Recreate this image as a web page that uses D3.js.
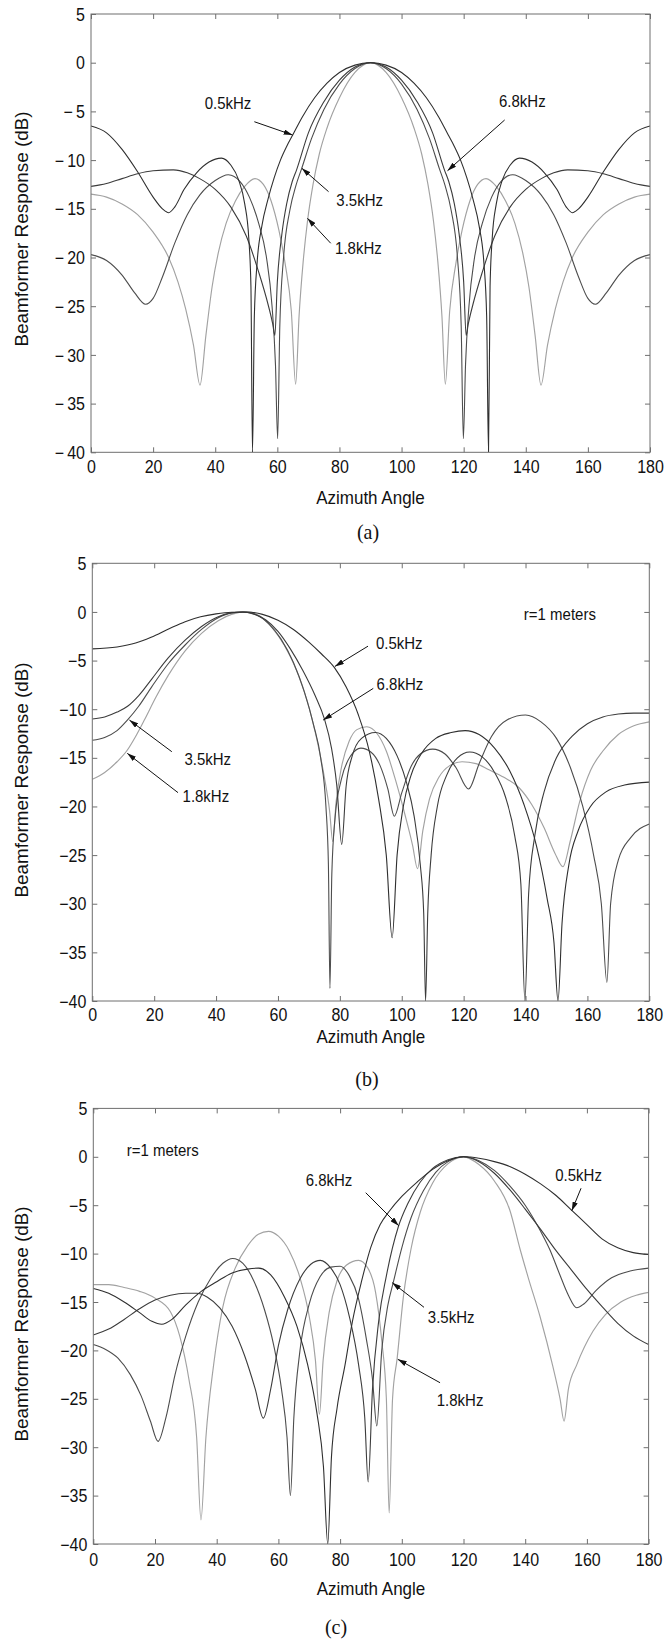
<!DOCTYPE html>
<html>
<head>
<meta charset="utf-8">
<script src="https://cdn.jsdelivr.net/npm/d3@7"></script>
<style>
  body { margin: 0; background: #fff; }
  svg { display: block; }
</style>
</head>
<body>
<svg id="chart" width="665" height="1643"></svg>
<script>
// ---------------- DATA ----------------
const xTicks = [0, 20, 40, 60, 80, 100, 120, 140, 160, 180];
const yTicks = [5, 0, -5, -10, -15, -20, -25, -30, -35, -40];
const freqs = ["0.5kHz", "6.8kHz", "3.5kHz", "1.8kHz"];
const xTitle = "Azimuth Angle";
const yTitle = "Beamformer Response (dB)";
const metersText = "r=1 meters";

// Panel (a): steered to 90 degrees  [angle, dB]
const a_05 = [[0,-6.5],[5,-7.2],[10,-8.9],[15,-11.2],[20,-13.8],[23,-15.0],[25,-15.4],[27,-14.8],[30,-13.0],[34,-11.3],[38,-10.2],[42,-9.8],[45,-10.5],[47.5,-12.0],[49.5,-14.5],[50.8,-18.0],[51.5,-23.0],[52,-40],[52.6,-26],[53.5,-20.5],[55,-16.8],[57,-14],[59,-11.8],[61,-10],[63,-8.6],[65,-7.4],[68,-5.6],[72,-3.6],[76,-2.1],[80,-1.0],[85,-0.25],[90,0],[95,-0.25],[100,-1.0],[104,-2.1],[108,-3.6],[112,-5.6],[115,-7.4],[117,-8.6],[119,-10],[121,-11.8],[123,-14],[125,-16.8],[126.5,-20.5],[127.4,-26],[128,-40],[128.5,-23],[129.2,-18],[130.5,-14.5],[132.5,-12],[135,-10.5],[138,-9.8],[142,-10.2],[146,-11.3],[150,-13],[153,-14.8],[155,-15.4],[157,-15],[160,-13.8],[165,-11.2],[170,-8.9],[175,-7.2],[180,-6.5]];
const a_68 = [[0,-12.7],[5,-12.4],[10,-11.9],[15,-11.4],[20,-11.1],[26.5,-11.0],[31,-11.3],[35,-11.9],[40,-13.0],[45,-14.8],[50,-17.8],[54,-21.5],[57,-24.8],[58.5,-26.8],[59.2,-28],[60,-22.5],[61.5,-17.5],[63,-14.5],[64.8,-12.2],[66.2,-11],[70,-7.2],[75,-4],[80,-1.8],[85,-0.45],[90,0],[95,-0.45],[100,-1.8],[105,-4],[110,-7.2],[113.8,-11],[115.2,-12.2],[117,-14.5],[118.5,-17.5],[120,-22.5],[120.8,-28],[121.5,-26.8],[123,-24.8],[126,-21.5],[130,-17.8],[135,-14.8],[140,-13],[145,-11.9],[149,-11.3],[153.5,-11],[160,-11.1],[165,-11.4],[170,-11.9],[175,-12.4],[180,-12.7]];
const a_35 = [[0,-19.7],[5,-20.3],[10,-21.8],[14,-23.6],[17.6,-24.8],[20,-24.2],[23,-22],[27,-18.5],[31,-15.6],[35,-13.6],[40,-12.1],[44.2,-11.5],[48,-12.2],[51,-13.8],[54,-16.5],[56.5,-20],[58.3,-25],[59.4,-31],[60.1,-38.6],[60.8,-27],[62,-20],[64,-15.2],[66,-12.6],[67.8,-10.9],[71,-7.8],[75,-4.8],[80,-2.2],[85,-0.6],[90,0],[95,-0.6],[100,-2.2],[105,-4.8],[109,-7.8],[112.2,-10.9],[114,-12.6],[116,-15.2],[118,-20],[119.2,-27],[119.9,-38.6],[120.6,-31],[121.7,-25],[123.5,-20],[126,-16.5],[129,-13.8],[132,-12.2],[135.8,-11.5],[140,-12.1],[145,-13.6],[149,-15.6],[153,-18.5],[157,-22],[160,-24.2],[162.4,-24.8],[166,-23.6],[170,-21.8],[175,-20.3],[180,-19.7]];
const a_18 = [[0,-13.5],[5,-13.8],[10,-14.5],[15,-15.6],[20,-17.4],[25,-20],[28,-22.5],[30.5,-25.3],[33,-29],[35.1,-33.1],[37,-28],[39,-23],[41,-19.5],[43.5,-16.5],[46.5,-14.2],[49.5,-12.7],[52.8,-11.9],[55.5,-12.5],[58,-14.2],[60.5,-17.2],[62.5,-20.6],[64.5,-25.5],[65.9,-33],[67,-26],[68.3,-20.5],[69.7,-16.3],[71.5,-12.5],[73.5,-9.4],[76,-6.7],[80,-3.6],[85,-1.0],[90,0],[95,-1.0],[100,-3.6],[104,-6.7],[106.5,-9.4],[108.5,-12.5],[110.3,-16.3],[111.7,-20.5],[113,-26],[114.1,-33],[115.5,-25.5],[117.5,-20.6],[119.5,-17.2],[122,-14.2],[124.5,-12.5],[127.2,-11.9],[130.5,-12.7],[133.5,-14.2],[136.5,-16.5],[139,-19.5],[141,-23],[143,-28],[144.9,-33.1],[147,-29],[149.5,-25.3],[152,-22.5],[155,-20],[160,-17.4],[165,-15.6],[170,-14.5],[175,-13.8],[180,-13.5]];

// Panel (b): steered to 50 degrees, r = 1 m
const b_05 = [[0,-3.8],[8,-3.6],[14,-3.2],[19,-2.6],[25,-1.7],[30,-1.0],[35,-0.5],[40,-0.2],[45,-0.03],[50,0],[55,-0.25],[60,-0.85],[65,-1.8],[70,-3.1],[74,-4.3],[78.2,-5.7],[82,-7.7],[86,-10.6],[89.5,-14.3],[92.5,-19.2],[95,-25],[96.9,-33.5],[98.5,-25],[100.5,-20],[103,-16.8],[106.5,-14.5],[111,-13],[116,-12.4],[120.5,-12.2],[125,-12.6],[130,-14],[135,-16.4],[139.5,-19.8],[143.5,-24],[147,-29.5],[149.2,-34],[150.5,-40],[151.8,-32],[154,-26],[157,-22.5],[161,-20],[166,-18.5],[172,-17.8],[180,-17.5]];
const b_68 = [[0,-11.0],[4,-10.8],[8,-10.3],[11.4,-9.7],[15,-8.6],[19.2,-6.9],[24.6,-4.7],[30,-2.9],[35.3,-1.5],[40.7,-0.5],[45,-0.1],[48.5,0],[52,-0.2],[56,-0.8],[60,-2.0],[64,-3.8],[68,-6.0],[72,-8.6],[75,-11.0],[77.3,-14],[79,-17.8],[80.6,-23.9],[82,-18],[84,-14.8],[87,-13],[91.5,-12.4],[95,-13],[98.5,-14.8],[101.5,-17.5],[104,-21],[106,-26],[107.1,-31],[107.7,-40],[108.4,-31],[109.5,-25],[111.5,-20],[114.5,-16.8],[118,-15],[122,-14.4],[126,-14.9],[130,-16.5],[133.5,-19],[136.5,-23],[138.5,-28],[139.8,-40],[141,-29],[143,-23],[146,-18.5],[150,-15],[155,-12.8],[160,-11.5],[165,-10.8],[170,-10.5],[175,-10.4],[180,-10.4]];
const b_35 = [[0,-13.2],[4,-12.9],[8,-12.2],[11.4,-11.1],[15,-9.7],[19.2,-7.7],[24.6,-5.3],[30,-3.4],[35.3,-1.8],[40.7,-0.6],[45,-0.1],[49,0],[53,-0.3],[57,-1.2],[61,-2.8],[65,-5.2],[68.5,-8.2],[71.5,-11.6],[73.8,-15],[75.5,-20],[76.3,-26],[76.8,-38.7],[77.4,-27],[78.5,-21],[80.5,-17.2],[83.5,-14.8],[86.8,-14.0],[90,-14.4],[93,-15.8],[95.5,-18.2],[97.6,-21.0],[100,-18.6],[103,-15.9],[106,-14.6],[110,-14.1],[114,-14.6],[117.5,-16.0],[121.6,-18.2],[125,-15.6],[129,-12.8],[134,-11.1],[140,-10.6],[145,-11.3],[150,-13],[154.5,-16],[158.5,-20],[162,-25],[164.5,-30],[166.3,-38.1],[167.5,-30],[170,-25.5],[174,-23.2],[180,-21.8]];
const b_18 = [[0,-17.2],[4,-16.5],[8,-15.4],[11.1,-14.3],[14,-12.8],[17,-11.0],[20.5,-8.8],[24.6,-6.5],[30,-4.0],[35.3,-2.2],[40.7,-0.9],[45,-0.25],[50,0],[54,-0.4],[58,-1.6],[62,-3.4],[66,-6],[69.5,-9.2],[72.5,-13],[75,-17],[76.7,-20.5],[77.7,-23.6],[78.8,-19.5],[80.5,-16],[83,-13.3],[85.5,-12.1],[88.7,-11.8],[92,-12.5],[95,-14.3],[98,-17.3],[101,-20.8],[103.5,-24],[105.1,-26.4],[106.8,-22.5],[109,-19.2],[112,-17],[115.5,-15.8],[119.5,-15.4],[124,-15.6],[128,-16.2],[133,-17],[138,-18.1],[142,-19.8],[146,-22.2],[149.5,-24.8],[152.1,-26.2],[154.5,-23.5],[157.5,-19.5],[161,-16.3],[165,-14.3],[170,-12.6],[175,-11.7],[180,-11.3]];

// Panel (c): steered to 120 degrees, r = 1 m
const c_05 = [[0,-13.6],[5,-14.1],[10,-15],[15,-16.1],[19,-17],[22.2,-17.3],[25.5,-16.8],[30,-15.3],[35,-13.9],[40,-12.9],[45,-12.0],[50,-11.6],[53.6,-11.5],[57.5,-12.2],[62,-14.5],[66,-17.5],[69.5,-21.5],[72.5,-26.5],[74.6,-32],[76,-40],[77.2,-31],[79,-26],[81.6,-21.5],[84,-17],[87,-12.8],[90,-9.3],[93,-7.0],[96,-5.6],[100,-4.1],[105,-2.6],[110,-1.3],[115,-0.4],[120,0],[125,-0.15],[130,-0.5],[135,-1.0],[140,-1.8],[145,-2.8],[150,-4.0],[155,-5.5],[160,-7.0],[165,-8.5],[170,-9.4],[175,-9.9],[180,-10.1]];
const c_68 = [[0,-18.4],[5,-17.8],[10,-16.8],[15,-15.7],[20,-14.8],[25,-14.3],[30,-14.1],[33.5,-14.1],[37,-14.5],[41,-15.6],[45,-17.5],[49,-20.5],[52.5,-24],[55.1,-27],[57.5,-24],[60,-19.5],[63,-15.8],[67,-12.6],[70.5,-11.1],[73.6,-10.7],[77,-11.5],[80,-13.2],[83,-16.5],[86,-21.5],[88,-27],[89.1,-33.6],[90.5,-24],[92.5,-17],[95,-12.3],[98.9,-7.2],[102,-4.8],[106,-2.6],[110,-1.2],[115,-0.3],[120,0],[125,-0.5],[130,-1.7],[135,-3.4],[140,-5.4],[145,-7.5],[150,-9.7],[155,-11.7],[160,-13.7],[165,-15.5],[170,-17.2],[175,-18.5],[180,-19.4]];
const c_35 = [[0,-19.4],[4,-19.9],[8,-20.8],[12,-22.5],[15.5,-24.7],[18.5,-27.3],[21,-29.4],[23.5,-27],[26.5,-22.5],[30,-18.5],[34,-15],[38,-12.6],[42,-11],[45.2,-10.5],[48.5,-11],[52,-12.8],[55.5,-15.8],[58.5,-19.5],[61,-24],[62.8,-29],[63.9,-35],[65,-27],[67,-20],[70,-15.2],[73.5,-12.4],[77,-11.4],[80,-11.3],[83,-12.3],[86,-14.7],[88.5,-18.8],[90.5,-23],[91.9,-27.8],[93.5,-20],[95.5,-15.3],[97.3,-12.9],[100,-9.4],[103,-6.3],[107,-3.5],[111,-1.6],[115,-0.5],[120,0],[125,-0.4],[130,-1.4],[135,-3.0],[140,-5.0],[145,-7.7],[148,-9.6],[151,-12],[154,-14.3],[156.7,-15.6],[159,-15.2],[163,-13.8],[168,-12.5],[174,-11.8],[180,-11.5]];
const c_18 = [[0,-13.2],[5,-13.2],[10,-13.5],[15,-13.9],[20,-14.6],[25,-16],[28,-18.5],[31,-23],[33.5,-29],[34.9,-37.5],[36.5,-29],[39,-21.5],[42,-15.5],[46,-11.5],[50,-9.2],[53.5,-8],[56.8,-7.7],[60,-8.2],[63.5,-9.7],[67,-12.5],[70,-16.5],[72,-21],[73.3,-26.6],[74.5,-21],[76.5,-16],[79,-12.8],[82,-11.2],[86,-10.7],[89,-11.5],[91.5,-14],[93.5,-19],[95,-25],[95.9,-36.8],[97,-25],[98.5,-20.8],[100.5,-14.5],[103,-9.5],[106,-5.7],[110,-2.7],[115,-0.7],[120,0],[125,-0.8],[130,-2.5],[135,-5.5],[138.3,-9.5],[141,-12.5],[144.8,-16.5],[149,-21.7],[151.3,-25],[152.6,-27.3],[154,-24],[156.7,-21.5],[162,-18],[166,-16.3],[171,-15],[176,-14.3],[180,-14.0]];

// Annotations in data coordinates: label centre, arrow start, arrow tip
const annA = [
  {t:"0.5kHz", at:[44.1,-4.14], from:[52.6,-6.06], to:[64.9,-7.42]},
  {t:"6.8kHz", at:[138.9,-4.0], from:[133.2,-5.88], to:[114.8,-11.09]},
  {t:"3.5kHz", at:[86.5,-14.1], from:[76.5,-13.24], to:[67.9,-10.84]},
  {t:"1.8kHz", at:[86.1,-19.0], from:[77.2,-18.54], to:[69.7,-15.98]}
];
const annB = [
  {t:"0.5kHz", at:[99.2,-3.18], from:[89.1,-3.52], to:[78.4,-5.6]},
  {t:"6.8kHz", at:[99.4,-7.42], from:[90.8,-7.86], to:[74.6,-11.12]},
  {t:"3.5kHz", at:[37.3,-15.15], from:[25.7,-14.37], to:[12.0,-11.12]},
  {t:"1.8kHz", at:[36.7,-18.92], from:[27.7,-18.58], to:[11.3,-14.54]}
];
const annC = [
  {t:"6.8kHz", at:[76.4,-2.47], from:[88.3,-3.71], to:[99.0,-7.12]},
  {t:"0.5kHz", at:[157.3,-1.88], from:[158.1,-3.25], to:[155.1,-5.57]},
  {t:"3.5kHz", at:[116.0,-16.58], from:[107.2,-15.55], to:[96.9,-13.0]},
  {t:"1.8kHz", at:[118.9,-25.12], from:[112.4,-23.34], to:[98.7,-20.92]}
];
const metersA = null;
const metersB = [151.1, -0.24];
const metersC = [22.5, 0.63];

// ---------------- STYLE / LAYOUT ----------------
const FONT = "'Liberation Sans', Arial, Helvetica, sans-serif";
const SERIF = "'Liberation Serif', 'Times New Roman', serif";
const frameColor = "#6f6f6f";
const colors = {"0.5kHz":"#2f2f2f", "6.8kHz":"#3c3c3c", "3.5kHz":"#4d4d4d", "1.8kHz":"#a2a2a2"};
const SY = 1.1; // slight vertical stretch of the original scan's text

const panels = [
  {id:"a", l:91,   r:650,   t:14,     b:452.3, tickDy:14.6, titleDy:45,  cap:"(a)", capX:368, capY:531.7, yTitleY:229,
   data:{"0.5kHz":a_05,"6.8kHz":a_68,"3.5kHz":a_35,"1.8kHz":a_18}, ann:annA, meters:metersA, minus:"\u2212\u2009"},
  {id:"b", l:92.3, r:649.3, t:563.3,  b:1001,  tickDy:13.5, titleDy:35,  cap:"(b)", capX:367, capY:1078.3, yTitleY:780,
   data:{"0.5kHz":b_05,"6.8kHz":b_68,"3.5kHz":b_35,"1.8kHz":b_18}, ann:annB, meters:metersB, minus:"\u2212"},
  {id:"c", l:93.3, r:648.6, t:1108.4, b:1544,  tickDy:15.5, titleDy:44,  cap:"(c)", capX:336, capY:1626, yTitleY:1324,
   data:{"0.5kHz":c_05,"6.8kHz":c_68,"3.5kHz":c_35,"1.8kHz":c_18}, ann:annC, meters:metersC, minus:"\u2212"}
];

const svg = d3.select("#chart");
const defs = svg.append("defs");
defs.append("marker").attr("id","arrowhead")
  .attr("viewBox","0 0 10 6").attr("refX",10).attr("refY",3)
  .attr("markerWidth",9).attr("markerHeight",5.5).attr("markerUnits","userSpaceOnUse")
  .attr("orient","auto")
  .append("path").attr("d","M0,0 L10,3 L0,6 Z").attr("fill","#111");

function stext(g, x, y, str, size, anchor, family) {
  return g.append("text")
    .attr("transform", `translate(${x},${y}) scale(1,${SY})`)
    .attr("text-anchor", anchor || "middle")
    .attr("dy", "0.35em")
    .attr("font-family", family || FONT)
    .attr("font-size", size)
    .attr("fill", "#111")
    .text(str);
}

panels.forEach(P => {
  const x = d3.scaleLinear().domain([0, 180]).range([P.l, P.r]);
  const y = d3.scaleLinear().domain([-40, 5]).range([P.b, P.t]);
  const g = svg.append("g");

  defs.append("clipPath").attr("id", "clip-" + P.id)
    .append("rect").attr("x", P.l).attr("y", P.t).attr("width", P.r - P.l).attr("height", P.b - P.t);

  // bottom axis (inward ticks + labels)
  const bx = g.append("g").attr("transform", `translate(0,${P.b})`)
    .call(d3.axisBottom(x).tickValues(xTicks).tickSize(-5).tickFormat(d3.format("d")));
  bx.select(".domain").remove();
  bx.selectAll("line").attr("stroke", frameColor);
  bx.selectAll("text")
    .attr("y", P.tickDy / SY).attr("dy", "0.35em")
    .attr("transform", `scale(1,${SY})`)
    .attr("font-family", FONT).attr("font-size", 16).attr("fill", "#111");

  // top axis ticks
  const tx = g.append("g").attr("transform", `translate(0,${P.t})`)
    .call(d3.axisTop(x).tickValues(xTicks).tickSize(-5).tickFormat(""));
  tx.select(".domain").remove();
  tx.selectAll("line").attr("stroke", frameColor);

  // left axis
  const ly = g.append("g").attr("transform", `translate(${P.l},0)`)
    .call(d3.axisLeft(y).tickValues(yTicks).tickSize(-5)
      .tickFormat(d => d < 0 ? P.minus + Math.abs(d) : String(d)));
  ly.select(".domain").remove();
  ly.selectAll("line").attr("stroke", frameColor);
  ly.selectAll("text")
    .attr("x", -6).attr("dy", "0.35em")
    .attr("transform", `scale(1,${SY})`)
    .attr("font-family", FONT).attr("font-size", 16).attr("fill", "#111");

  // right axis ticks
  const ry = g.append("g").attr("transform", `translate(${P.r},0)`)
    .call(d3.axisRight(y).tickValues(yTicks).tickSize(-5).tickFormat(""));
  ry.select(".domain").remove();
  ry.selectAll("line").attr("stroke", frameColor);

  // curves
  const line = d3.line().x(d => x(d[0])).y(d => y(Math.max(d[1], -40))).curve(d3.curveMonotoneX);
  const order = ["1.8kHz", "3.5kHz", "6.8kHz", "0.5kHz"];
  g.append("g").attr("clip-path", `url(#clip-${P.id})`)
    .selectAll("path").data(order).join("path")
    .attr("d", f => line(P.data[f]))
    .attr("fill", "none")
    .attr("stroke", f => colors[f])
    .attr("stroke-width", f => f === "1.8kHz" ? 1.15 : 1.1)
    .attr("stroke-linejoin", "round");

  // frame
  g.append("rect").attr("x", P.l).attr("y", P.t).attr("width", P.r - P.l).attr("height", P.b - P.t)
    .attr("fill", "none").attr("stroke", frameColor).attr("stroke-width", 1);

  // annotations
  P.ann.forEach(a => {
    g.append("line")
      .attr("x1", x(a.from[0])).attr("y1", y(a.from[1]))
      .attr("x2", x(a.to[0])).attr("y2", y(a.to[1]))
      .attr("stroke", "#111").attr("stroke-width", 1)
      .attr("marker-end", "url(#arrowhead)");
    stext(g, x(a.at[0]), y(a.at[1]), a.t, 15, "middle");
  });
  if (P.meters) stext(g, x(P.meters[0]), y(P.meters[1]), metersText, 15, "middle");

  // axis titles
  stext(g, (P.l + P.r) / 2, P.b + P.titleDy, xTitle, 17, "middle");
  g.append("text")
    .attr("transform", `translate(22,${P.yTitleY}) rotate(-90) scale(1.08,1)`)
    .attr("text-anchor", "middle").attr("dy", "0.35em")
    .attr("font-family", FONT).attr("font-size", 17.5).attr("fill", "#111")
    .text(yTitle);

  // caption
  stext(g, P.capX, P.capY, P.cap, 20, "middle", SERIF);
});
</script>
</body>
</html>
